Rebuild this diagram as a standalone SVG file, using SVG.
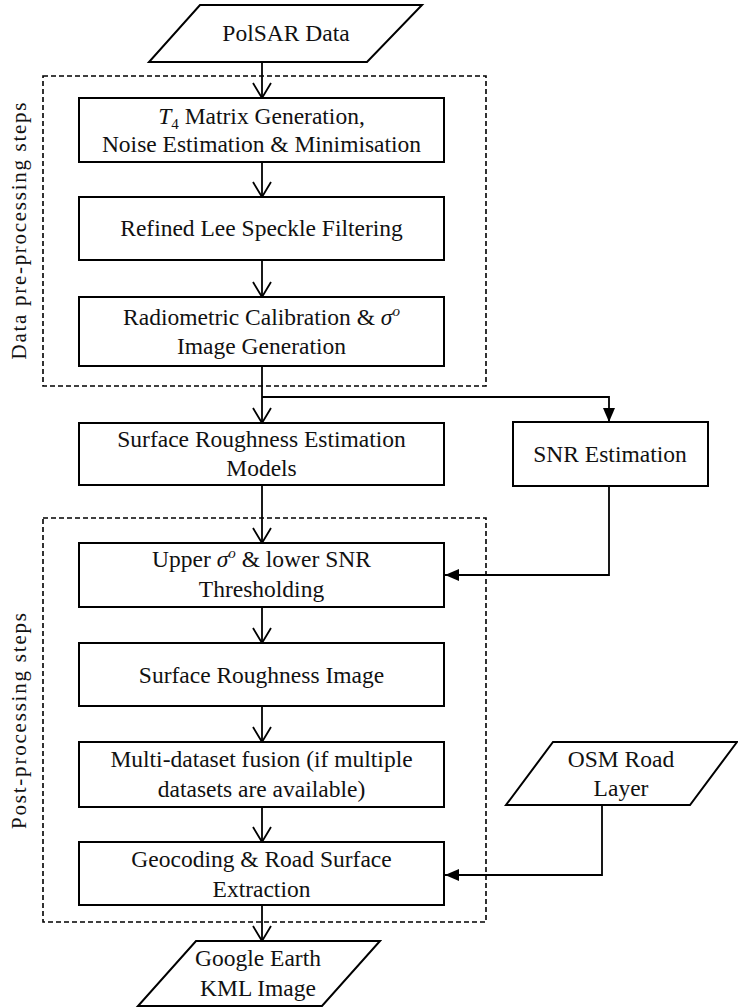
<svg xmlns="http://www.w3.org/2000/svg" width="738" height="1008" viewBox="0 0 738 1008">
<style>
.box{fill:#fff;stroke:#000;stroke-width:2}
.dash{fill:none;stroke:#000;stroke-width:1.6;stroke-dasharray:5 3}
.t{font-family:"Liberation Serif","Times New Roman",serif;font-size:23.5px;fill:#111;text-anchor:middle}
.side{font-family:"Liberation Serif","Times New Roman",serif;font-size:21px;fill:#111;text-anchor:middle}
.c{fill:none;stroke:#000;stroke-width:1.8}
.ov{marker-end:url(#open)}
.fl{marker-end:url(#fill)}
</style>
<defs>
<marker id="open" markerUnits="userSpaceOnUse" markerWidth="22" markerHeight="20" viewBox="0 0 22 20" refX="20" refY="10" orient="auto">
<path d="M5,1 L20,10 L5,19" fill="none" stroke="#000" stroke-width="1.8"/>
</marker>
<marker id="fill" markerUnits="userSpaceOnUse" markerWidth="14" markerHeight="12" viewBox="0 0 14 12" refX="14" refY="6" orient="auto">
<path d="M0,0 L14,6 L0,12 Z" fill="#000"/>
</marker>
</defs>
<rect width="738" height="1008" fill="#fff"/>

<g id="groups">
<rect class="dash" x="43" y="76" width="443" height="310"/>
<rect class="dash" x="43" y="518" width="443" height="404"/>
<text class="side" transform="translate(26,231) rotate(-90)" textLength="257" lengthAdjust="spacing">Data pre-processing steps</text>
<text class="side" transform="translate(26,721) rotate(-90)" textLength="216" lengthAdjust="spacing">Post-processing steps</text>
</g>

<g id="connectors">
<path class="c ov" d="M262,62 V98"/>
<path class="c ov" d="M262,162 V197"/>
<path class="c ov" d="M262,260 V297"/>
<path class="c ov" d="M262,366 V423"/>
<path class="c fl" d="M262,397 H609 V422"/>
<path class="c ov" d="M262,485 V543"/>
<path class="c fl" d="M609,486 V575 H445"/>
<path class="c ov" d="M262,607 V643"/>
<path class="c ov" d="M262,706 V742"/>
<path class="c ov" d="M262,807 V842"/>
<path class="c fl" d="M602,805 V875 H445"/>
<path class="c ov" d="M262,905 V941"/>
</g>

<g id="polsar">
<polygon class="box" points="200,5 422,5 367,62 149,62"/>
<text class="t" x="286" y="41">PolSAR Data</text>
</g>

<g id="t4">
<rect class="box" x="79" y="98" width="365" height="64"/>
<text class="t" x="261.5" y="124"><tspan font-style="italic">T</tspan><tspan font-size="15" dy="5">4</tspan><tspan dy="-5"> Matrix Generation,</tspan></text>
<text class="t" x="261.5" y="152">Noise Estimation &amp; Minimisation</text>
</g>

<g id="lee">
<rect class="box" x="79" y="197" width="365" height="63"/>
<text class="t" x="261.5" y="236">Refined Lee Speckle Filtering</text>
</g>

<g id="calib">
<rect class="box" x="79" y="297" width="365" height="69"/>
<text class="t" x="261.5" y="325">Radiometric Calibration &amp; <tspan font-style="italic">σ</tspan><tspan font-style="italic" font-size="15" dy="-9">o</tspan></text>
<text class="t" x="261.5" y="354">Image Generation</text>
</g>

<g id="models">
<rect class="box" x="79" y="423" width="365" height="62"/>
<text class="t" x="261.5" y="447">Surface Roughness Estimation</text>
<text class="t" x="261.5" y="476">Models</text>
</g>

<g id="snr">
<rect class="box" x="513" y="422" width="195" height="64"/>
<text class="t" x="610" y="462">SNR Estimation</text>
</g>

<g id="threshold">
<rect class="box" x="79" y="543" width="365" height="64"/>
<text class="t" x="261.5" y="567">Upper <tspan font-style="italic">σ</tspan><tspan font-style="italic" font-size="15" dy="-9">o</tspan><tspan dy="9"> &amp; lower SNR</tspan></text>
<text class="t" x="261.5" y="597">Thresholding</text>
</g>

<g id="image">
<rect class="box" x="79" y="643" width="365" height="63"/>
<text class="t" x="261.5" y="683">Surface Roughness Image</text>
</g>

<g id="fusion">
<rect class="box" x="79" y="742" width="365" height="65"/>
<text class="t" x="261.5" y="767">Multi-dataset fusion (if multiple</text>
<text class="t" x="261.5" y="797">datasets are available)</text>
</g>

<g id="osm">
<polygon class="box" points="553,742 737,742 690,805 506,805"/>
<text class="t" x="621" y="767">OSM Road</text>
<text class="t" x="621" y="796">Layer</text>
</g>

<g id="geocoding">
<rect class="box" x="79" y="842" width="365" height="63"/>
<text class="t" x="261.5" y="867">Geocoding &amp; Road Surface</text>
<text class="t" x="261.5" y="897">Extraction</text>
</g>

<g id="kml">
<polygon class="box" points="196,941 380,941 322,1006 138,1006"/>
<text class="t" x="258" y="966">Google Earth</text>
<text class="t" x="258" y="996">KML Image</text>
</g>
</svg>
